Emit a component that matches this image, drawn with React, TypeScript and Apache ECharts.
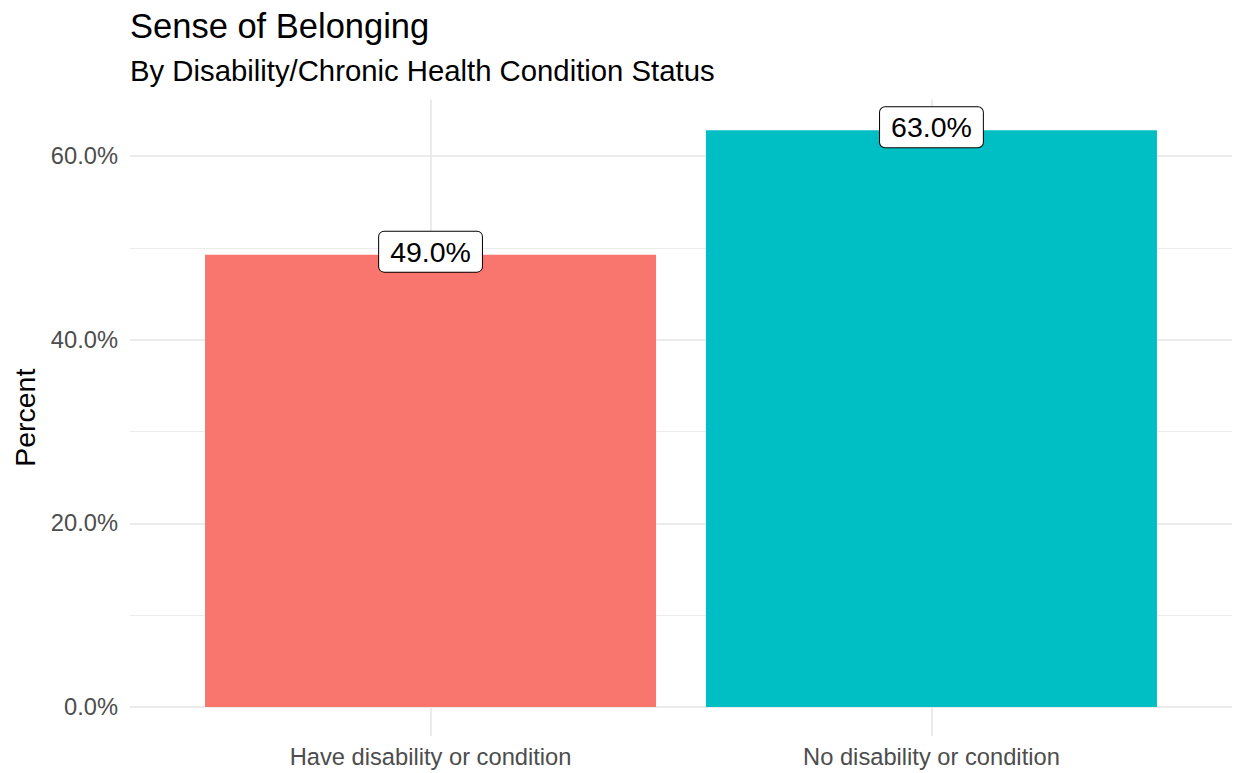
import React, { useEffect, useRef } from "react";
import * as echarts from "echarts";

const categories = ["Have disability or condition", "No disability or condition"];
const xPositions = [1, 2];
const values = [49.26, 62.8];
const colors = ["#F8766D", "#00BFC4"];
const yTicks = [0, 20, 40, 60];
const yMinorTicks = [10, 30, 50];

const FONT = "'Liberation Sans', Arial, Helvetica, sans-serif";
const Y_MIN = -3.15;
const Y_MAX = 66.15;

export default function App() {
  const ref = useRef<HTMLDivElement>(null);
  useEffect(() => {
    const chart = echarts.init(ref.current!, null, { renderer: "svg" });
    chart.setOption({
      animation: false,
      backgroundColor: "#ffffff",
      textStyle: { fontFamily: FONT },
      title: [
        {
          text: "Sense of Belonging",
          left: 130,
          top: 8,
          padding: 0,
          textStyle: { fontSize: 34.5, fontWeight: "normal", color: "#000", fontFamily: FONT },
        },
        {
          text: "By Disability/Chronic Health Condition Status",
          left: 130,
          top: 56,
          padding: 0,
          textStyle: { fontSize: 29.3, fontWeight: "normal", color: "#000", fontFamily: FONT },
        },
      ],
      grid: { left: 130, right: 4, top: 99.5, bottom: 37, containLabel: false },
      xAxis: {
        type: "value",
        min: 0.4,
        max: 2.6,
        axisLine: { show: false, onZero: false },
        axisTick: { show: false, customValues: xPositions },
        axisLabel: {
          customValues: xPositions,
          formatter: (v: number) => categories[Math.round(v) - 1] ?? "",
          fontSize: 23.7,
          color: "#4D4D4D",
          margin: 9,
          fontFamily: FONT,
        },
        splitLine: { show: true, lineStyle: { color: "#EBEBEB", width: 2 } },
      },
      yAxis: [
        {
          type: "value",
          min: Y_MIN,
          max: Y_MAX,
          name: "Percent",
          nameLocation: "middle",
          nameRotate: 90,
          nameGap: 89,
          nameTextStyle: { fontSize: 28.5, color: "#000", fontFamily: FONT },
          axisLine: { show: false },
          axisTick: { show: false, customValues: yTicks },
          axisLabel: {
            customValues: yTicks,
            formatter: (v: number) => v.toFixed(1) + "%",
            fontSize: 23.7,
            color: "#4D4D4D",
            margin: 12,
            fontFamily: FONT,
          },
          splitLine: { show: true, lineStyle: { color: "#EBEBEB", width: 2 } },
        },
        {
          type: "value",
          min: Y_MIN,
          max: Y_MAX,
          position: "left",
          axisLine: { show: false },
          axisTick: { show: false, customValues: yMinorTicks },
          axisLabel: { show: false, customValues: yMinorTicks },
          splitLine: { show: true, lineStyle: { color: "#EBEBEB", width: 1 } },
        },
      ],
      series: [
        {
          type: "bar",
          z: 2,
          barWidth: 451,
          yAxisIndex: 0,
          data: values.map((v, i) => ({
            value: [xPositions[i], v],
            itemStyle: { color: colors[i] },
          })),
          label: {
            show: true,
            position: ["50%", 0],
            align: "center",
            verticalAlign: "middle",
            offset: [0, -3],
            formatter: (p: any) => Math.round(p.value[1]).toFixed(1) + "%",
            fontSize: 28.5,
            lineHeight: 30,
            color: "#000",
            fontFamily: FONT,
            backgroundColor: "#ffffff",
            borderColor: "#000",
            borderWidth: 1,
            borderRadius: 5,
            padding: [5, 11],
          },
        },
      ],
    });
    return () => chart.dispose();
  }, []);
  return (
    <div
      ref={ref}
      style={{ position: "fixed", left: 0, top: 0, width: 1236, height: 773 }}
    />
  );
}
